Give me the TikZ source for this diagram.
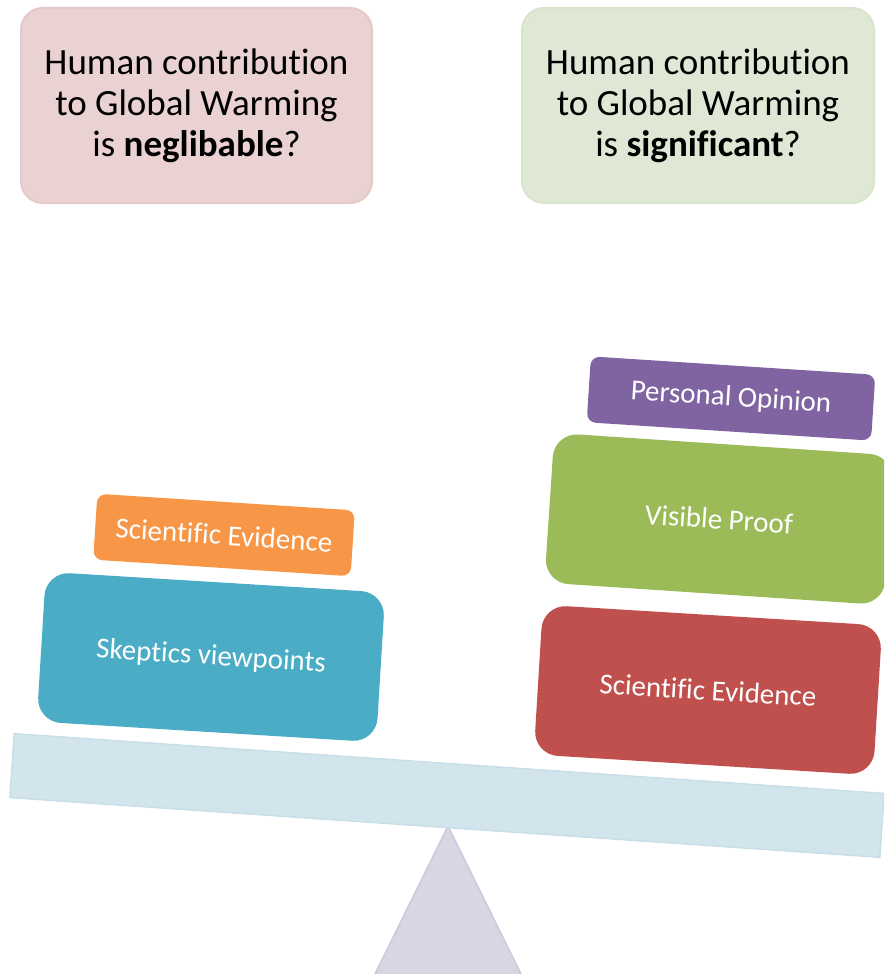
\documentclass[tikz,border=0pt]{standalone}
\usepackage{fontspec}
\setmainfont[Ligatures={NoCommon,NoContextual},RawFeature={-liga;-clig;-calt;-dlig}]{Carlito}
\definecolor{pinkfill}{RGB}{234,210,210}
\definecolor{pinkline}{RGB}{230,200,200}
\definecolor{greenfill}{RGB}{223,232,212}
\definecolor{greenline}{RGB}{218,228,205}
\definecolor{beamfill}{RGB}{211,229,236}
\definecolor{beamline}{RGB}{201,223,231}
\definecolor{trifill}{RGB}{217,213,227}
\definecolor{triline}{RGB}{207,200,224}
\definecolor{cteal}{RGB}{75,172,198}
\definecolor{corange}{RGB}{247,150,70}
\definecolor{cpurple}{RGB}{128,100,162}
\definecolor{cgreen}{RGB}{155,187,89}
\definecolor{cred}{RGB}{192,80,77}
\tikzset{
  question/.style={rectangle, rounded corners=22pt, line width=2pt,
    minimum height=195pt, align=center, text=black,
    font=\fontsize{37}{41}\selectfont},
  bigbox/.style={rectangle, rounded corners=24pt, minimum width=340pt,
    minimum height=150pt, text=white, rotate=-3.5,
    font=\fontsize{29}{34}\selectfont},
  smallbox/.style={rectangle, rounded corners=9pt, minimum height=66pt,
    text=white, rotate=-3.7, font=\fontsize{29}{34}\selectfont},
}
\begin{document}
\begin{tikzpicture}[x=1pt,y=-1pt]
\useasboundingbox (0,0) rectangle (884,974);
\clip (0,0) rectangle (884,974);
% questions
\node[question, fill=pinkfill, draw=pinkline, minimum width=351pt] (neg) at (196.5,105.5)
  {Human contribution\\to Global Warming\\is \textbf{neglibable}?};
\node[question, fill=greenfill, draw=greenline, minimum width=352pt] (sig) at (698,105.5)
  {Human contribution\\to Global Warming\\is \textbf{significant}?};
% fulcrum
\coordinate (apex) at (448,826);
\coordinate (bl) at (372,980);
\coordinate (br) at (524,980);
\draw[fill=trifill, draw=triline, line width=1.5pt] (apex) -- (br) -- (bl) -- cycle;
% beam
\node[rectangle, fill=beamfill, draw=beamline, line width=1.5pt,
  minimum width=872pt, minimum height=64pt, rotate=-3.93] (beam) at (447,795.5) {};
% left stack
\node[bigbox, fill=cteal] (skep) at (211,657) {Skeptics viewpoints};
\node[smallbox, fill=corange, minimum width=258pt] (sciL) at (224,535) {Scientific Evidence};
% right stack
\node[bigbox, fill=cred] (sciR) at (708,690) {Scientific Evidence};
\node[bigbox, fill=cgreen, rotate=-0.3] (proof) at (719,519) {Visible Proof};
\node[smallbox, fill=cpurple, minimum width=285pt] (opin) at (731,398.5) {Personal Opinion};
\end{tikzpicture}
\end{document}
